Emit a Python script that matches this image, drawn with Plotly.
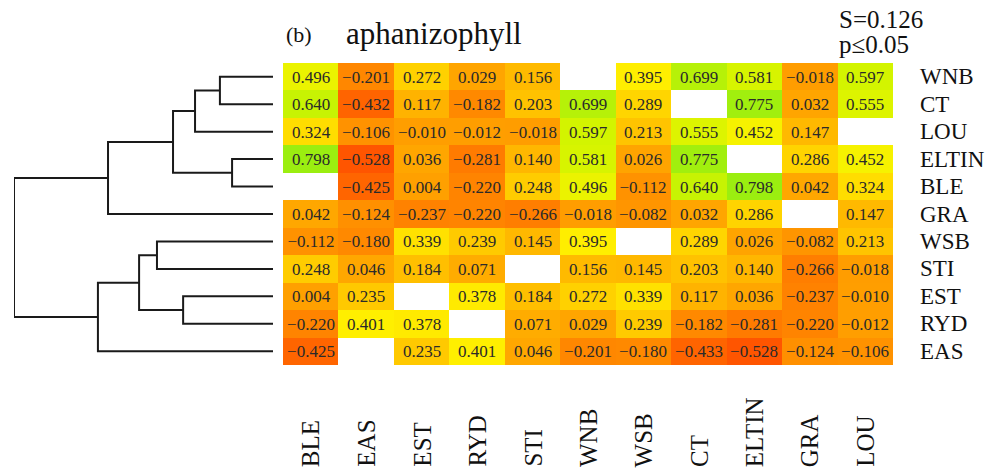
import plotly.graph_objects as go

rows = ["WNB", "CT", "LOU", "ELTIN", "BLE", "GRA", "WSB", "STI", "EST", "RYD", "EAS"]
cols = ["BLE", "EAS", "EST", "RYD", "STI", "WNB", "WSB", "CT", "ELTIN", "GRA", "LOU"]

WNB = [0.496, -0.201, 0.272, 0.029, 0.156, None, 0.395, 0.699, 0.581, -0.018, 0.597]
CT = [0.640, -0.432, 0.117, -0.182, 0.203, 0.699, 0.289, None, 0.775, 0.032, 0.555]
LOU = [0.324, -0.106, -0.010, -0.012, -0.018, 0.597, 0.213, 0.555, 0.452, 0.147, None]
ELTIN = [0.798, -0.528, 0.036, -0.281, 0.140, 0.581, 0.026, 0.775, None, 0.286, 0.452]
BLE = [None, -0.425, 0.004, -0.220, 0.248, 0.496, -0.112, 0.640, 0.798, 0.042, 0.324]
GRA = [0.042, -0.124, -0.237, -0.220, -0.266, -0.018, -0.082, 0.032, 0.286, None, 0.147]
WSB = [-0.112, -0.180, 0.339, 0.239, 0.145, 0.395, None, 0.289, 0.026, -0.082, 0.213]
STI = [0.248, 0.046, 0.184, 0.071, None, 0.156, 0.145, 0.203, 0.140, -0.266, -0.018]
EST = [0.004, 0.235, None, 0.378, 0.184, 0.272, 0.339, 0.117, 0.036, -0.237, -0.010]
RYD = [-0.220, 0.401, 0.378, None, 0.071, 0.029, 0.239, -0.182, -0.281, -0.220, -0.012]
EAS = [-0.425, None, 0.235, 0.401, 0.046, -0.201, -0.180, -0.433, -0.528, -0.124, -0.106]

matrix = [WNB, CT, LOU, ELTIN, BLE, GRA, WSB, STI, EST, RYD, EAS]

# dendrogram merges: (child a, child b, height); leaves 0..10 are rows, new ids from 11
merges = [
    (0, 1, 0.205),
    (11, 2, 0.301),
    (3, 4, 0.158),
    (12, 13, 0.386),
    (14, 5, 0.637),
    (6, 7, 0.448),
    (8, 9, 0.347),
    (16, 17, 0.517),
    (18, 10, 0.676),
    (15, 19, 1.0),
]

title_tag = "(b)"
title_text = "aphanizophyll"
stat_lines = ["S=0.126", "p≤0.05"]

SERIF = "Liberation Serif, Times New Roman, serif"

def fmt(v):
    if v is None:
        return ""
    s = f"{abs(v):.3f}"
    return ("\u2212" + s) if v < 0 else s

text = [[fmt(v) for v in r] for r in matrix]

cscale = [
    [0.0, "#FF5500"],
    [0.22, "#FF8200"],
    [0.40, "#FFA000"],
    [0.56, "#FFC400"],
    [0.71, "#FFF200"],
    [0.85, "#D2F400"],
    [1.0, "#9AEE10"],
]

W, H = 1002, 475
top_px, bot_px = 63, 365
hm_l, hm_r = 283, 893
dn_l, dn_r = 14, 273

fig = go.Figure()
fig.add_trace(go.Heatmap(
    z=matrix, x=list(range(len(cols))), y=list(range(len(rows))),
    text=text, texttemplate="%{text}",
    textfont=dict(family=SERIF, size=17, color="#2a2a2a"),
    colorscale=cscale, zmin=-0.53, zmax=0.80, showscale=False,
    hoverongaps=False, xgap=0, ygap=0,
))

# dendrogram
pos = {i: float(i) for i in range(len(rows))}
hgt = {i: 0.0 for i in range(len(rows))}
xs, ys = [], []
nid = len(rows)
for a, b, h in merges:
    xs += [hgt[a], h, h, hgt[b], None]
    ys += [pos[a], pos[a], pos[b], pos[b], None]
    pos[nid] = (pos[a] + pos[b]) / 2
    hgt[nid] = h
    nid += 1
fig.add_trace(go.Scatter(x=xs, y=ys, xaxis="x2", yaxis="y", mode="lines",
                         line=dict(color="#1a1a1a", width=2), cliponaxis=False,
                         hoverinfo="skip", showlegend=False))

ann = []
for i, r in enumerate(rows):
    ann.append(dict(x=(918) / W, xref="paper", y=i, yref="y", text=r, showarrow=False,
                    xanchor="left", yanchor="middle",
                    font=dict(family=SERIF, size=23, color="#111")))
for j, c in enumerate(cols):
    ann.append(dict(x=j, xref="x", y=(H - 469) / H, yref="paper", text=c, showarrow=False,
                    textangle=-90, xanchor="center", yanchor="bottom",
                    font=dict(family=SERIF, size=25, color="#111")))
ann.append(dict(x=284 / W, xref="paper", y=1 - 34 / H, yref="paper", text=title_tag,
                showarrow=False, xanchor="left", yanchor="middle",
                font=dict(family=SERIF, size=22, color="#111")))
ann.append(dict(x=344 / W, xref="paper", y=1 - 33 / H, yref="paper", text=title_text,
                showarrow=False, xanchor="left", yanchor="middle",
                font=dict(family=SERIF, size=31, color="#111")))
ann.append(dict(x=837 / W, xref="paper", y=1 - 19 / H, yref="paper", text=stat_lines[0],
                showarrow=False, xanchor="left", yanchor="middle",
                font=dict(family=SERIF, size=25, color="#111")))
ann.append(dict(x=837 / W, xref="paper", y=1 - 45 / H, yref="paper", text=stat_lines[1],
                showarrow=False, xanchor="left", yanchor="middle",
                font=dict(family=SERIF, size=25, color="#111")))

fig.update_layout(
    width=W, height=H, margin=dict(l=0, r=0, t=0, b=0),
    paper_bgcolor="white", plot_bgcolor="white",
    font=dict(family=SERIF),
    xaxis=dict(domain=[hm_l / W, hm_r / W], range=[-0.5, len(cols) - 0.5],
               showticklabels=False, showgrid=False, zeroline=False, ticks=""),
    yaxis=dict(domain=[1 - bot_px / H, 1 - top_px / H], range=[len(rows) - 0.5, -0.5],
               showticklabels=False, showgrid=False, zeroline=False, ticks=""),
    xaxis2=dict(domain=[dn_l / W, dn_r / W], range=[1.0, 0.0], anchor="y",
                showticklabels=False, showgrid=False, zeroline=False, ticks=""),
    annotations=ann,
    showlegend=False,
)

fig.write_html("out.html", config={"displayModeBar": False},
               post_script="document.body.style.margin='0';document.body.style.overflow='hidden';")
